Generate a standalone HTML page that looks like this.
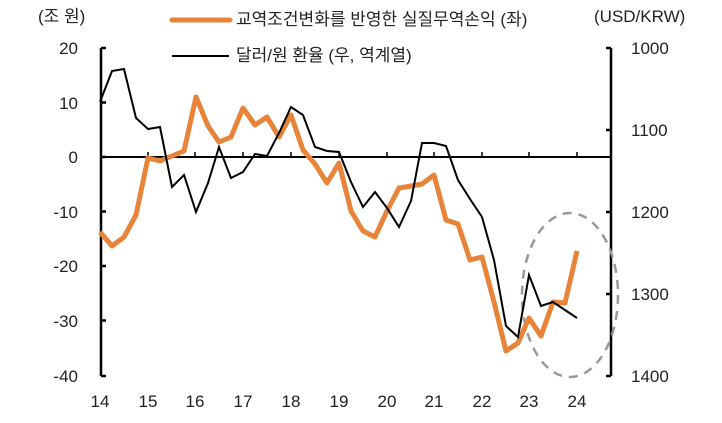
<!DOCTYPE html>
<html><head><meta charset="utf-8"><style>
body{margin:0;background:#fff}
svg text{font-family:"Liberation Sans","Noto Sans CJK KR",sans-serif;font-size:17px;fill:#222}
</style></head><body>
<svg width="722" height="418" viewBox="0 0 722 418" xmlns="http://www.w3.org/2000/svg">
<g stroke="#000" stroke-width="2.5" fill="none">
<line x1="101" y1="48" x2="101" y2="376"/>
<line x1="611" y1="48" x2="611" y2="376"/>
<path d="M101 48h5M101 102.5h5M101 157h5M101 211.5h5M101 266h5M101 320.5h5M101 376h5"/>
<path d="M611 48h-5M611 130h-5M611 212h-5M611 294h-5M611 376h-5"/>
</g>
<line x1="101" y1="157" x2="611" y2="157" stroke="#000" stroke-width="2"/>
<path d="M148 157v-5M195 157v-5M243 157v-5M291 157v-5M339 157v-5M387 157v-5M434 157v-5M482 157v-5M529 157v-5M577 157v-5" stroke="#000" stroke-width="1.5"/>
<ellipse cx="570" cy="295" rx="48" ry="82" fill="none" stroke="#999" stroke-width="2.5" stroke-dasharray="9,7"/>
<polyline fill="none" stroke="#E8843A" stroke-width="5" stroke-linejoin="round" points="100,232 112,246 124,237 136,215 148,158 160,161 172,156 184,151 196,97 208,126 219,142 231,137 243,108 255,125 267,117 279,137 291,115 303,150 315,164 327,183 339,163 351,211 363,231 375,237 387,211 399,188 411,186 422,184 434,175 446,220 458,224 470,260 482,257 494,302 506,351 518,343 529,318 541,336 553,302 565,303 577,251"/>
<polyline fill="none" stroke="#000" stroke-width="2" points="100,102 112,71 124,69 136,118 148,129 160,127 172,187 184,175 196,212 208,183 219,147 231,178 243,172 255,154 267,156 279,133 291,107 303,115 315,147 327,151 339,152 351,182 363,207 375,192 387,208 399,227 411,201 422,143 434,143 446,146 458,180 470,199 482,217 494,260 506,326 518,337 529,275 541,306 553,302 565,310 577,318"/>
<g text-anchor="end">
<text x="78" y="54">20</text><text x="78" y="109">10</text><text x="78" y="163">0</text><text x="78" y="218">-10</text><text x="78" y="272">-20</text><text x="78" y="327">-30</text><text x="78" y="382">-40</text>
</g>
<g text-anchor="start">
<text x="631" y="54">1000</text><text x="631" y="136">1100</text><text x="631" y="218">1200</text><text x="631" y="300">1300</text><text x="631" y="382">1400</text>
</g>
<g text-anchor="middle">
<text x="100" y="407">14</text><text x="148" y="407">15</text><text x="195" y="407">16</text><text x="243" y="407">17</text><text x="291" y="407">18</text><text x="339" y="407">19</text><text x="387" y="407">20</text><text x="434" y="407">21</text><text x="482" y="407">22</text><text x="529" y="407">23</text><text x="577" y="407">24</text>
</g>
<text x="38" y="22">(조 원)</text>
<text x="594" y="22">(USD/KRW)</text>
<line x1="172" y1="20" x2="230" y2="20" stroke="#E8843A" stroke-width="5" stroke-linecap="round"/>
<text x="236" y="25">교역조건변화를 반영한 실질무역손익 (좌)</text>
<line x1="172" y1="56" x2="229" y2="56" stroke="#000" stroke-width="2"/>
<text x="236" y="61">달러/원 환율 (우, 역계열)</text>
</svg>
</body></html>
